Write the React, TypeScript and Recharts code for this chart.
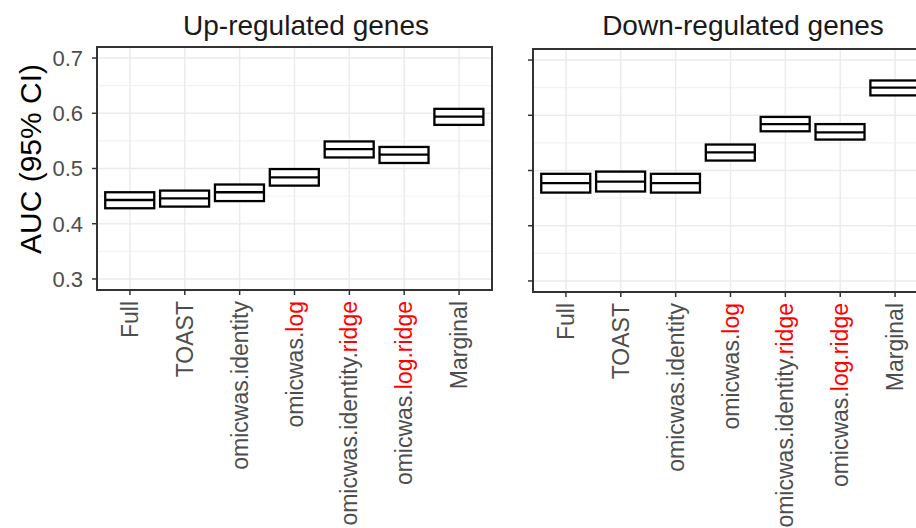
import { Bar, CartesianGrid, ComposedChart, XAxis, YAxis } from "recharts";

const categories = [
  "Full",
  "TOAST",
  "omicwas.identity",
  "omicwas.log",
  "omicwas.identity.ridge",
  "omicwas.log.ridge",
  "Marginal",
];
// trailing part of each label that is printed in red
const redParts = ["", "", "", "log", "ridge", "log.ridge", ""];

const yTicks = [0.3, 0.4, 0.5, 0.6, 0.7];
const yMinorTicks = [0.35, 0.45, 0.55, 0.65];

const upEstimate = [0.443, 0.446, 0.457, 0.484, 0.535, 0.525, 0.594];
const upLower = [0.428, 0.431, 0.441, 0.469, 0.52, 0.51, 0.579];
const upUpper = [0.457, 0.46, 0.471, 0.499, 0.549, 0.539, 0.608];

const downEstimate = [0.477, 0.48, 0.477, 0.533, 0.584, 0.569, 0.65];
const downLower = [0.46, 0.462, 0.46, 0.518, 0.571, 0.556, 0.636];
const downUpper = [0.494, 0.498, 0.494, 0.547, 0.597, 0.584, 0.663];

const FONT = '"Liberation Sans", Arial, Helvetica, sans-serif';
const TEXT_GREY = "#4D4D4D";
const GRID = "#EBEBEB";
const DARK = "#333333";
const Y_DOMAIN: [number, number] = [0.28, 0.72];

function buildRows(est: number[], lo: number[], hi: number[]) {
  return categories.map((name, i) => ({
    name,
    est: est[i],
    lo: lo[i],
    hi: hi[i],
    range: [lo[i], hi[i]],
  }));
}

const upRows = buildRows(upEstimate, upLower, upUpper);
const downRows = buildRows(downEstimate, downLower, downUpper);

// box from lower to upper CI, line at the estimate (like geom_crossbar)
function CrossBar(props: any) {
  const { x, y, width, height, payload } = props;
  if (x == null || y == null || !payload) return null;
  const top = Math.min(y, y + height);
  const h = Math.abs(height);
  const mid = top + (h * (payload.hi - payload.est)) / (payload.hi - payload.lo);
  return (
    <g>
      <rect x={x} y={top} width={width} height={h} fill="#fff" stroke="#000" strokeWidth={2.3} />
      <line x1={x} x2={x + width} y1={mid} y2={mid} stroke="#000" strokeWidth={2.3} />
    </g>
  );
}

function MethodTick(props: any) {
  const { x, y, payload } = props;
  const label = String(payload.value);
  const i = categories.indexOf(label);
  const red = i >= 0 ? redParts[i] : "";
  const base = label.slice(0, label.length - red.length);
  return (
    <g transform={`translate(${x},${y})`}>
      <text transform="rotate(-90)" y={8} textAnchor="end" fontSize={23} fontFamily={FONT} fill={TEXT_GREY}>
        <tspan>{base}</tspan>
        {red && <tspan fill="#FF0000">{red}</tspan>}
      </text>
    </g>
  );
}

const minorGrid = ({ yAxis, offset }: any) => {
  if (yAxis && typeof yAxis.scale === "function") return yMinorTicks.map((v) => yAxis.scale(v));
  const [lo, hi] = Y_DOMAIN;
  return yMinorTicks.map((v) => offset.top + (offset.height * (hi - v)) / (hi - lo));
};

function Panel({ rows, width, yWidth, showLabels }: any) {
  return (
    <ComposedChart
      width={width}
      height={528}
      data={rows}
      margin={{ top: 47, right: 0, bottom: 8, left: 0 }}
      barCategoryGap="5%"
    >
      <CartesianGrid vertical={false} stroke={GRID} strokeWidth={0.8} horizontalCoordinatesGenerator={minorGrid} />
      <CartesianGrid stroke={GRID} strokeWidth={1.4} />
      <XAxis
        dataKey="name"
        type="category"
        interval={0}
        padding={{ left: 5.5, right: 5.5 }}
        height={230}
        tickSize={5}
        tickMargin={6}
        axisLine={false}
        tickLine={{ stroke: DARK, strokeWidth: 1.5 }}
        tick={<MethodTick />}
      />
      <YAxis
        type="number"
        domain={Y_DOMAIN}
        ticks={yTicks}
        allowDataOverflow
        width={yWidth}
        tickSize={5}
        tickMargin={9}
        axisLine={false}
        tickLine={{ stroke: DARK, strokeWidth: 1.5 }}
        tick={{ fill: TEXT_GREY, fontSize: 22, fontFamily: FONT }}
        tickFormatter={(v: number) => (showLabels ? v.toFixed(1) : "")}
      />
      <Bar dataKey="range" isAnimationActive={false} shape={CrossBar} />
    </ComposedChart>
  );
}

export default function App() {
  return (
    <div
      style={{
        position: "absolute",
        left: 0,
        top: 0,
        width: 916,
        height: 528,
        overflow: "hidden",
        background: "#fff",
        fontFamily: FONT,
      }}
    >
      <div style={{ position: "absolute", left: 0, top: 0 }}>
        <Panel rows={upRows} width={492} yWidth={97} showLabels />
      </div>
      <div style={{ position: "absolute", left: 523, top: 2 }}>
        <Panel rows={downRows} width={405} yWidth={10} showLabels={false} />
      </div>
      <svg width={916} height={528} style={{ position: "absolute", left: 0, top: 0, pointerEvents: "none" }}>
        <rect x={97} y={47} width={395} height={243} fill="none" stroke={DARK} strokeWidth={2} />
        <rect x={533} y={49} width={395} height={243} fill="none" stroke={DARK} strokeWidth={2} />
        <text x={306} y={35} textAnchor="middle" fontSize={28} fontFamily={FONT} fill="#1A1A1A">
          Up-regulated genes
        </text>
        <text x={743} y={35} textAnchor="middle" fontSize={28} fontFamily={FONT} fill="#1A1A1A">
          Down-regulated genes
        </text>
        <text
          transform="translate(41,159) rotate(-90)"
          textAnchor="middle"
          fontSize={30}
          fontFamily={FONT}
          fill="#000"
        >
          AUC (95% CI)
        </text>
      </svg>
    </div>
  );
}
